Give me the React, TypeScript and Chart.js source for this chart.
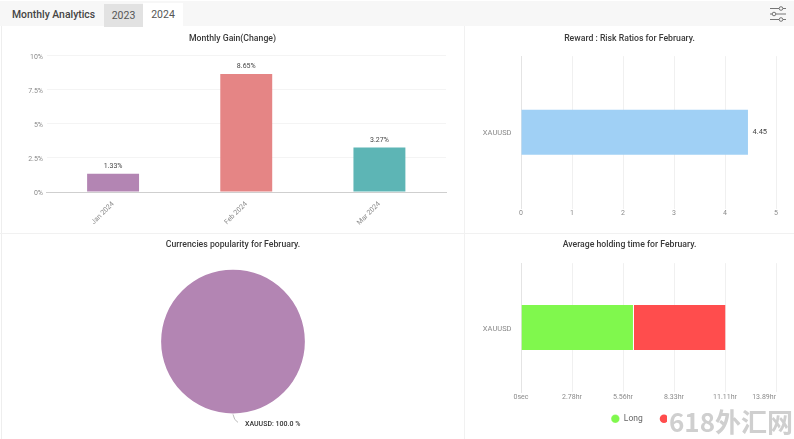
import React, { useEffect, useRef } from "react";
import { Chart, registerables } from "chart.js";

Chart.register(...registerables);

const months = ["Jan 2024", "Feb 2024", "Mar 2024"];
const monthlyGain = [1.33, 8.65, 3.27];
const monthColors = ["#B385B3", "#E58585", "#5DB5B5"];

const symbols = ["XAUUSD"];
const riskRatio = [4.45];

const popularity = [100];
const popularityColors = ["#B385B3"];

const holdTickLabels = ["0sec", "2.78hr", "5.56hr", "8.33hr", "11.11hr", "13.89hr"];
const longSeconds = [22150];
const shortSeconds = [17900];

const FONT = "Roboto";
const TICK = "#8a8a8a";

const titleOf = (text: string, top: number, bottom: number) => ({
  display: true,
  text,
  color: "#3a3a3a",
  font: { family: FONT, size: 8.7, weight: "500" as any },
  padding: { top, bottom },
});

const tickFont = { family: FONT, size: 7 };
const catFont = { family: FONT, size: 7.5 };

function Panel({ left, top, width, height, make }: any) {
  const ref = useRef<HTMLCanvasElement>(null);
  useEffect(() => {
    const c = new Chart(ref.current!, make());
    return () => c.destroy();
  }, []);
  return (
    <div style={{ position: "absolute", left, top, width, height }}>
      <canvas ref={ref} />
    </div>
  );
}

const gainChart = () => ({
  type: "bar",
  data: {
    labels: months,
    datasets: [{ data: monthlyGain, backgroundColor: monthColors, barPercentage: 0.39, categoryPercentage: 1 }],
  },
  options: {
    animation: false,
    responsive: true,
    maintainAspectRatio: false,
    layout: { padding: { left: 19, right: 19 } },
    plugins: { legend: { display: false }, tooltip: { enabled: false }, title: titleOf("Monthly Gain(Change)", 6.6, 11.6) },
    scales: {
      x: {
        afterFit: (s: any) => { s.height = 41; },
        grid: { display: false, drawTicks: false },
        border: { color: "#cfcfcf" },
        ticks: { color: TICK, font: tickFont, minRotation: 45, maxRotation: 45, padding: 8 },
      },
      y: {
        min: 0,
        max: 10,
        afterFit: (s: any) => { s.width = 27.5; },
        grid: { color: "#f4f4f4", drawTicks: false },
        border: { display: false },
        ticks: { stepSize: 2.5, color: TICK, font: tickFont, padding: 3.5, labelOffset: 1.5, callback: (v: any) => `${v}%` },
      },
    },
  },
  plugins: [{
    id: "gainValues",
    afterDatasetsDraw(chart: any) {
      const { ctx } = chart;
      ctx.save();
      ctx.font = `7px ${FONT}`;
      ctx.fillStyle = "#444";
      ctx.textAlign = "center";
      ctx.textBaseline = "middle";
      chart.getDatasetMeta(0).data.forEach((el: any, i: number) => {
        ctx.fillText(`${monthlyGain[i]}%`, el.x, el.y - 7.5);
      });
      ctx.restore();
    },
  }],
});

const ratioChart = () => ({
  type: "bar",
  data: {
    labels: symbols,
    datasets: [{ data: riskRatio, backgroundColor: "#A0D0F5", barPercentage: 0.296, categoryPercentage: 1 }],
  },
  options: {
    indexAxis: "y",
    animation: false,
    responsive: true,
    maintainAspectRatio: false,
    layout: { padding: { left: 18, right: 18 } },
    plugins: { legend: { display: false }, tooltip: { enabled: false }, title: titleOf("Reward : Risk Ratios for February.", 6.6, 12.1) },
    scales: {
      x: {
        min: 0,
        max: 5,
        afterFit: (s: any) => { s.height = 24.5; },
        grid: { color: "#f0f0f0", drawTicks: false },
        border: { display: false },
        ticks: { stepSize: 1, color: TICK, font: tickFont, padding: 0.5, maxRotation: 0 },
      },
      y: {
        afterFit: (s: any) => { s.width = 38; },
        grid: { display: false, drawTicks: false },
        border: { color: "#e4e4e4" },
        ticks: { color: TICK, font: catFont, padding: 9.5, labelOffset: 0.5 },
      },
    },
  },
  plugins: [{
    id: "ratioValues",
    afterDatasetsDraw(chart: any) {
      const { ctx } = chart;
      ctx.save();
      ctx.font = `7.5px ${FONT}`;
      ctx.fillStyle = "#444";
      ctx.textAlign = "left";
      ctx.textBaseline = "middle";
      chart.getDatasetMeta(0).data.forEach((el: any, i: number) => {
        ctx.fillText(`${riskRatio[i]}`, el.x + 4.5, el.y);
      });
      ctx.restore();
    },
  }],
});

const pieChart = () => ({
  type: "pie",
  data: {
    labels: symbols,
    datasets: [{ data: popularity, backgroundColor: popularityColors, borderWidth: 0 }],
  },
  options: {
    animation: false,
    responsive: true,
    maintainAspectRatio: false,
    layout: { padding: { left: 1, bottom: 25.6 } },
    plugins: { legend: { display: false }, tooltip: { enabled: false }, title: titleOf("Currencies popularity for February.", 4.6, 19.6) },
  },
  plugins: [{
    id: "pieLabel",
    afterDatasetsDraw(chart: any) {
      const { ctx } = chart;
      const el = chart.getDatasetMeta(0).data[0];
      const bottom = el.y + el.outerRadius;
      ctx.save();
      ctx.strokeStyle = "#aaa";
      ctx.lineWidth = 0.8;
      ctx.beginPath();
      ctx.moveTo(el.x, bottom + 1);
      ctx.quadraticCurveTo(el.x + 1, bottom + 7, el.x + 5, bottom + 9);
      ctx.stroke();
      ctx.font = `500 7px ${FONT}`;
      ctx.fillStyle = "#333";
      ctx.textAlign = "left";
      ctx.textBaseline = "middle";
      ctx.fillText(`${symbols[0]}: ${popularity[0].toFixed(1)} %`, el.x + 12, bottom + 10.5);
      ctx.restore();
    },
  }],
});

const holdChart = () => ({
  type: "bar",
  data: {
    labels: symbols,
    datasets: [
      { label: "Long", data: longSeconds, backgroundColor: "#80F84D", borderColor: "#ffffff", borderWidth: { right: 1 }, barPercentage: 0.349, categoryPercentage: 1 },
      { label: "Short", data: shortSeconds, backgroundColor: "#FF4D4D", barPercentage: 0.349, categoryPercentage: 1 },
    ],
  },
  options: {
    indexAxis: "y",
    animation: false,
    responsive: true,
    maintainAspectRatio: false,
    layout: { padding: { left: 18, right: 18, bottom: 1 } },
    plugins: {
      tooltip: { enabled: false },
      title: titleOf("Average holding time for February.", 4.6, 13.1),
      legend: {
        position: "bottom",
        fullSize: false,
        labels: { usePointStyle: true, pointStyle: "circle", boxWidth: 12, boxHeight: 6, padding: 17, color: "#666", font: { family: FONT, size: 8.5 } },
      },
    },
    scales: {
      x: {
        stacked: true,
        min: 0,
        max: 50000,
        afterFit: (s: any) => { s.height = 10.5; },
        grid: { color: "#f0f0f0", drawTicks: false },
        border: { display: false },
        ticks: {
          stepSize: 10000,
          color: TICK,
          font: tickFont,
          padding: 1.5,
          maxRotation: 0,
          autoSkip: false,
          callback: (_v: any, i: number) => (i === holdTickLabels.length - 1 ? "" : holdTickLabels[i]),
        },
      },
      y: {
        stacked: true,
        afterFit: (s: any) => { s.width = 38; },
        grid: { display: false, drawTicks: false },
        border: { color: "#e4e4e4" },
        ticks: { color: TICK, font: catFont, padding: 9.5, labelOffset: 1.5 },
      },
    },
  },
  plugins: [{
    id: "holdExtras",
    afterLayout(chart: any) {
      chart.legend.left += 3.5;
      chart.legend.right += 3.5;
      chart.legend.top -= 5;
      chart.legend.bottom -= 5;
    },
    afterDraw(chart: any) {
      const { ctx, scales } = chart;
      ctx.save();
      ctx.font = `7px ${FONT}`;
      ctx.fillStyle = TICK;
      ctx.textAlign = "right";
      ctx.textBaseline = "top";
      ctx.fillText(holdTickLabels[holdTickLabels.length - 1], scales.x.right, scales.x.top + 1.5);
      ctx.restore();
    },
  }],
});

export default function App() {
  return (
    <div style={{ position: "fixed", inset: 0, background: "#fff", overflow: "hidden", fontFamily: FONT }}>
      <div style={{ position: "absolute", left: 0, top: 1, width: 794, height: 25, background: "#f7f7f7" }} />
      <div style={{ position: "absolute", left: 12, top: 8, fontSize: 10.4, fontWeight: 500, color: "#444", lineHeight: "14px" }}>
        Monthly Analytics
      </div>
      <div style={{ position: "absolute", left: 104, top: 4, width: 39, height: 23, background: "#e2e2e2", color: "#555", fontSize: 10.5, lineHeight: "23px", textAlign: "center" }}>
        2023
      </div>
      <div style={{ position: "absolute", left: 143, top: 3, width: 40, height: 24, background: "#fff", color: "#555", fontSize: 10.5, lineHeight: "24px", textAlign: "center" }}>
        2024
      </div>
      <svg style={{ position: "absolute", left: 769, top: 6, width: 18, height: 16 }} viewBox="0 0 18 16" fill="none" stroke="#666" strokeWidth="0.9">
        <path d="M1 2.5H10M14 2.5H17M1 8H3M7 8H17M1 13.5H10M14 13.5H17" />
        <circle cx="12" cy="2.5" r="1.8" />
        <circle cx="5" cy="8" r="1.8" />
        <circle cx="12" cy="13.5" r="1.8" />
      </svg>
      <div style={{ position: "absolute", left: 1, top: 26, width: 1, height: 413, background: "#eeeeee" }} />
      <div style={{ position: "absolute", left: 464, top: 26, width: 1, height: 413, background: "#f1f1f1" }} />
      <div style={{ position: "absolute", left: 0, top: 233, width: 794, height: 1, background: "#f1f1f1" }} />
      <Panel left={0} top={27} width={465} height={206} make={gainChart} />
      <Panel left={465} top={27} width={329} height={206} make={ratioChart} />
      <Panel left={0} top={235} width={465} height={204} make={pieChart} />
      <Panel left={465} top={235} width={329} height={204} make={holdChart} />
      <div style={{ position: "absolute", left: 667, top: 404, width: 127, height: 35, background: "#fff", color: "#cfcfcf", fontFamily: "'Noto Sans CJK SC'", fontWeight: 700, fontSize: 26, lineHeight: "34px", whiteSpace: "nowrap", paddingLeft: 2, boxSizing: "border-box" }}>
        618外汇网
      </div>
    </div>
  );
}
